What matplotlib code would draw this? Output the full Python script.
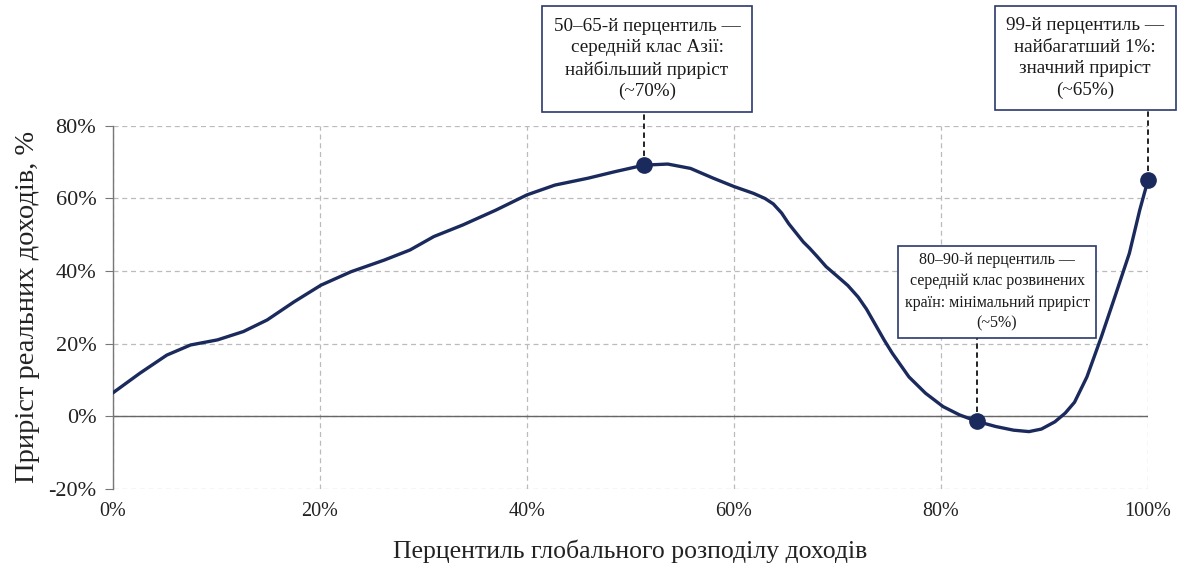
import numpy as np
import matplotlib.pyplot as plt
from matplotlib.ticker import FuncFormatter

plt.rcParams['font.family'] = ['Liberation Serif', 'DejaVu Serif']

# Точки кривої (процентиль, приріст %)
percentil = [0, 2.6, 5.2, 7.5, 10.1, 12.6, 14.9, 17.5, 20.1, 23.0, 26.2, 28.7,
             31.0, 33.8, 37.0, 40.0, 42.7, 45.9, 48.5, 51.3, 53.6, 55.8, 58.0,
             60.0, 61.9, 63.0, 63.8, 64.6, 65.3, 66.0, 66.7, 67.3, 68.1, 68.9,
             70.0, 71.0, 72.0, 72.8, 73.7, 74.5, 75.3, 76.9, 78.5, 80.2, 81.8,
             83.5, 85.3, 87.0, 88.5, 89.7, 91.0, 92.0, 92.9, 94.1, 95.5, 96.8,
             98.2, 99.2, 100]
pryrist = [6.4, 11.8, 16.8, 19.6, 21.0, 23.3, 26.5, 31.5, 36.1, 39.8, 43.0, 45.8,
           49.5, 52.7, 56.8, 61.0, 63.7, 65.6, 67.4, 69.2, 69.5, 68.3, 65.6,
           63.3, 61.4, 60.0, 58.5, 56.0, 53.0, 50.5, 48.0, 46.3, 43.8, 41.2,
           38.5, 36.0, 32.8, 29.5, 25.0, 21.0, 17.3, 10.8, 6.3, 2.6, 0.3,
           -1.5, -2.9, -3.9, -4.3, -3.6, -1.6, 0.8, 3.8, 10.8, 21.9, 32.9,
           44.9, 56.8, 65.1]

# Ключові точки та підписи
tochky_x = [51.3, 83.5, 100]
tochky_y = [69.2, -1.5, 65.1]
pidpysy = ["50–65-й перцентиль —\nсередній клас Азії:\nнайбільший приріст\n(~70%)",
           "80–90-й перцентиль —\nсередній клас розвинених\nкраїн: мінімальний приріст\n(~5%)",
           "99-й перцентиль —\nнайбагатший 1%:\nзначний приріст\n(~65%)"]
# центри рамок у пікселях фігури, розмір шрифту, відступ рамки, міжрядковий інтервал
rozmishchennia = [(647, 508, 13.8, 0.6, 1.34), (997, 275, 11.5, 0.4, 1.42),
                  (1085, 509, 13.8, 0.6, 1.34)]

kolir = '#1b2a5c'

fig = plt.figure(figsize=(11.84, 5.67), dpi=100)
ax = fig.add_axes([0.0954, 0.1384, 0.8742, 0.6394])

ax.plot(percentil, pryrist, color=kolir, lw=2.4, solid_joinstyle='round',
        solid_capstyle='round', zorder=3)
ax.axhline(0, color='#666666', lw=1.0, zorder=2)
ax.plot(tochky_x, tochky_y, 'o', color=kolir, ms=11, zorder=4, clip_on=False)

ramky = []
for txt, (px, py, fs, pad, ls) in zip(pidpysy, rozmishchennia):
    t = fig.text(px / 1184, py / 567, txt, ha='center', va='center', fontsize=fs,
                 color='#1a1a1a', linespacing=ls, zorder=6,
                 bbox=dict(boxstyle=f'square,pad={pad}', fc='white', ec='#2b3a6b', lw=1.2))
    ramky.append(t)

ax.set_xlim(0, 100)
ax.set_ylim(-20, 80)
ax.set_xticks([0, 20, 40, 60, 80, 100])
ax.set_yticks([-20, 0, 20, 40, 60, 80])
ax.xaxis.set_major_formatter(FuncFormatter(lambda v, p: f"{v:.0f}%"))
ax.yaxis.set_major_formatter(FuncFormatter(lambda v, p: f"{v:.0f}%"))

ax.grid(True, ls=(0, (4, 3)), color='#bbbbbb', lw=0.9)
for s in ['top', 'right', 'bottom']:
    ax.spines[s].set_visible(False)
ax.spines['left'].set_color('#777777')
ax.spines['left'].set_linewidth(1.0)
ax.tick_params(axis='y', length=6, color='#777777', labelsize=16, labelcolor='#222222', pad=6)
ax.tick_params(axis='x', length=0, labelsize=14.5, labelcolor='#222222', pad=10)

ax.set_xlabel("Перцентиль глобального розподілу доходів", fontsize=18.5, color='#222222')
ax.xaxis.set_label_coords(0.5, -0.14)
ax.set_ylabel("Приріст реальних доходів, %", fontsize=20.5, color='#222222', labelpad=6)

# пунктирні з'єднувачі від точок до нижнього краю рамок
fig.canvas.draw()
for t, x, y in zip(ramky, tochky_x, tochky_y):
    niz = t.get_bbox_patch().get_window_extent().y0
    y_niz = ax.transData.inverted().transform((0, niz))[1]
    ax.plot([x, x], [y, y_niz], ls=(0, (3, 2)), color='#111111', lw=1.3,
            clip_on=False, zorder=3.5)

fig.savefig("out.png", dpi=100)
